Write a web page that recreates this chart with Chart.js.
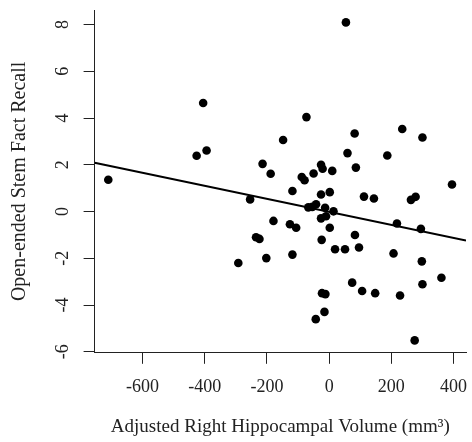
<!DOCTYPE html>
<html lang="en">
<head>
  <meta charset="UTF-8" />
  <title>Hippocampal volume vs stem fact recall</title>
  <script src="https://cdn.jsdelivr.net/npm/chart.js"></script>
  <style>
    html, body { margin: 0; padding: 0; background: #fff; }
    canvas { display: block; }
  </style>
</head>
<body>
  <canvas id="scatterChart" width="472" height="442"></canvas>

  <script>
    // adjusted right hippocampal volume (mm3)
    const volume = [
      -710, -405, -426, -394, -214, -188, -254, 54, -73, -148,
      82, 235, 300, 59, 187, -26, -21, -50, -88, -79,
      10, 86, -118, -26, 2, 112, 144, 278, 263, 395,
      -67, -54, -42, -13, -26, -10, 14, -179, -126, -106,
      2, -235, -224, -24, 83, 218, 295, 19, 51, 96,
      -202, -118, 207, 298, 361, 300, 74, 106, 148, 228,
      -23, -12, -15, -43, 275, -292
    ];
    // open-ended stem fact recall
    const recall = [
      1.36, 4.64, 2.39, 2.61, 2.04, 1.62, 0.52, 8.09, 4.04, 3.06,
      3.34, 3.53, 3.17, 2.50, 2.40, 2.00, 1.83, 1.63, 1.48, 1.34,
      1.74, 1.88, 0.88, 0.73, 0.83, 0.64, 0.56, 0.63, 0.50, 1.16,
      0.18, 0.20, 0.31, 0.16, -0.29, -0.20, 0.01, -0.40, -0.54, -0.69,
      -0.69, -1.10, -1.17, -1.21, -1.00, -0.51, -0.74, -1.61, -1.61, -1.54,
      -1.99, -1.84, -1.79, -2.13, -2.83, -3.11, -3.04, -3.40, -3.49, -3.59,
      -3.49, -3.53, -4.29, -4.60, -5.51, -2.20
    ];

    const xTicks = [-600, -400, -200, 0, 200, 400];
    const yTicks = [-6, -4, -2, 0, 2, 4, 6, 8];
    const xRange = [-754, 440];
    const yRange = [-6.04, 8.62];

    // fitted line
    const fitIntercept = -0.01;
    const fitSlope = -0.00278;

    const points = volume.map((v, i) => ({ x: v, y: recall[i] }));
    const fitLine = xRange.map(x => ({ x: x, y: fitIntercept + fitSlope * x }));

    const ink = '#222';
    const serif = '"Liberation Serif", "DejaVu Serif", serif';

    // R-style y tick labels, turned on their side
    const sideLabels = {
      id: 'sideLabels',
      afterDraw(chart) {
        const ctx = chart.ctx;
        const yScale = chart.scales.y;
        const x = chart.chartArea.left - 27;
        ctx.save();
        ctx.fillStyle = ink;
        ctx.font = '18px ' + serif;
        ctx.textAlign = 'center';
        ctx.textBaseline = 'alphabetic';
        yTicks.forEach(t => {
          const y = yScale.getPixelForValue(t);
          ctx.save();
          ctx.translate(x, y);
          ctx.rotate(-Math.PI / 2);
          ctx.fillText(String(t), 0, 0);
          ctx.restore();
        });
        ctx.restore();
      }
    };

    const noEdgePadding = axis => {
      axis.paddingLeft = 0;
      axis.paddingRight = 0;
      axis.paddingTop = 0;
      axis.paddingBottom = 0;
    };

    const ctx = document.getElementById('scatterChart').getContext('2d');
    new Chart(ctx, {
      type: 'scatter',
      data: {
        datasets: [
          {
            label: 'Participants',
            data: points,
            backgroundColor: '#000',
            borderWidth: 0,
            pointRadius: 4.3,
            pointHoverRadius: 4.3
          },
          {
            type: 'line',
            label: 'Fit',
            data: fitLine,
            borderColor: '#000',
            borderWidth: 2,
            pointRadius: 0,
            fill: false
          }
        ]
      },
      options: {
        responsive: false,
        animation: false,
        devicePixelRatio: 1,
        layout: { padding: { top: 10, right: 6, bottom: 0, left: 0 } },
        plugins: {
          legend: { display: false },
          tooltip: { enabled: false }
        },
        scales: {
          x: {
            type: 'linear',
            min: xRange[0],
            max: xRange[1],
            afterBuildTicks: axis => { axis.ticks = xTicks.map(v => ({ value: v })); },
            afterFit: noEdgePadding,
            grid: { drawOnChartArea: false, drawTicks: true, tickLength: 11, tickColor: ink, lineWidth: 1 },
            border: { display: true, color: ink, width: 1 },
            ticks: {
              color: ink,
              padding: 13,
              maxRotation: 0,
              autoSkip: false,
              font: { family: serif, size: 18 }
            },
            title: {
              display: true,
              text: 'Adjusted Right Hippocampal Volume (mm³)',
              color: ink,
              font: { family: serif, size: 19 },
              padding: { top: 4.2, bottom: 3.6 }
            }
          },
          y: {
            type: 'linear',
            min: yRange[0],
            max: yRange[1],
            afterBuildTicks: axis => { axis.ticks = yTicks.map(v => ({ value: v })); },
            afterFit: noEdgePadding,
            grid: { drawOnChartArea: false, drawTicks: true, tickLength: 11, tickColor: ink, lineWidth: 1 },
            border: { display: true, color: ink, width: 1 },
            ticks: { display: false },
            title: {
              display: true,
              text: 'Open-ended Stem Fact Recall',
              color: ink,
              font: { family: serif, size: 20 },
              padding: { top: 8, bottom: 51.6 }
            }
          }
        }
      },
      plugins: [sideLabels]
    });
  </script>
</body>
</html>
